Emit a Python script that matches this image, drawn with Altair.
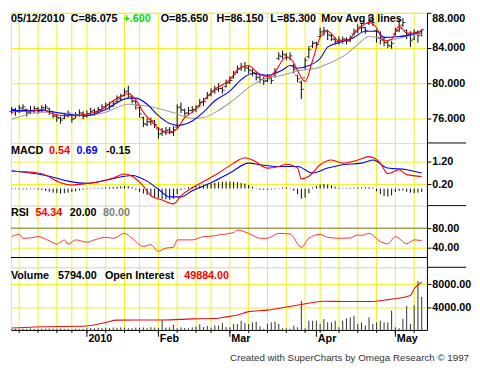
import altair as alt
import pandas as pd

# ---------------- daily bars: trading day 0 = 3 Dec 2009 ... 109 = 12 May 2010 ----------------
open_ = [76.8, 77.0, 76.8, 77.1, 77.0, 76.7, 76.9, 77.1, 76.9, 77.2,
         77.1, 76.7, 76.2, 76.0, 76.0, 76.3, 76.4, 76.0, 76.4, 76.6,
         76.3, 76.5, 76.9, 76.8, 77.0, 77.3, 77.6, 77.4, 77.9, 78.2,
         78.6, 79.1, 78.5, 77.9, 77.2, 76.1, 75.3, 75.6, 75.7, 74.8,
         74.3, 74.4, 74.7, 74.4, 75.0, 77.3, 76.9, 76.6, 76.9, 77.0,
         77.4, 77.9, 78.3, 78.7, 79.1, 79.3, 79.4, 79.6, 80.1, 80.6,
         81.2, 81.7, 81.9, 81.7, 81.4, 81.1, 80.7, 80.4, 80.3, 80.6,
         80.8, 82.8, 83.0, 83.2, 82.9, 82.0, 80.9, 80.1, 80.6, 83.0,
         84.2, 84.6, 85.3, 85.9, 85.9, 85.4, 85.0, 84.7, 84.8, 85.0,
         84.8, 85.6, 86.0, 86.4, 86.3, 86.8, 87.2, 86.0, 85.1, 85.0,
         84.6, 84.2, 85.6, 86.0, 86.6, 86.0, 85.5, 85.0, 85.8, 85.65]
high = [77.3, 77.2, 77.5, 77.6, 77.1, 77.4, 77.4, 77.3, 77.5, 77.6,
        77.2, 76.8, 76.5, 76.2, 76.6, 76.9, 76.5, 76.7, 77.0, 76.8,
        76.9, 77.2, 77.1, 77.3, 77.6, 77.8, 77.9, 78.0, 78.6, 78.8,
        79.4, 79.7, 78.6, 78.1, 77.4, 76.2, 76.0, 76.1, 75.8, 75.0,
        74.9, 75.0, 75.0, 75.1, 77.6, 77.8, 77.1, 77.3, 77.4, 77.5,
        78.2, 78.3, 79.0, 79.4, 79.7, 80.0, 79.6, 80.4, 80.8, 81.4,
        82.0, 82.3, 82.4, 82.0, 81.6, 81.3, 80.9, 80.7, 81.0, 80.8,
        81.7, 83.5, 83.7, 83.4, 83.5, 82.2, 80.9, 80.3, 82.9, 84.2,
        84.8, 84.7, 86.3, 86.4, 86.1, 85.6, 85.2, 85.3, 85.3, 85.2,
        85.4, 86.2, 86.7, 86.7, 86.4, 87.8, 87.5, 86.1, 85.9, 85.3,
        84.8, 84.8, 86.3, 87.3, 87.4, 86.1, 85.9, 86.1, 86.0, 86.15]
low = [76.5, 76.3, 76.6, 76.8, 76.2, 76.5, 76.6, 76.5, 76.7, 76.9,
       76.4, 76.0, 75.6, 75.4, 75.9, 76.1, 75.5, 76.0, 76.2, 75.9,
       76.1, 76.4, 76.3, 76.6, 76.9, 77.1, 77.0, 77.3, 77.8, 78.0,
       78.5, 78.3, 77.7, 77.0, 76.1, 75.0, 75.1, 75.2, 74.9, 73.7,
       74.0, 74.1, 74.2, 74.0, 74.8, 76.6, 76.3, 76.4, 76.6, 76.7,
       77.3, 77.4, 78.2, 78.5, 78.8, 79.0, 78.8, 79.5, 79.9, 80.5,
       81.1, 81.4, 81.3, 81.1, 80.8, 80.3, 80.0, 79.8, 80.1, 79.9,
       80.6, 82.6, 82.8, 82.6, 82.6, 81.1, 80.1, 78.2, 81.5, 82.8,
       84.0, 84.0, 85.2, 85.4, 84.9, 84.8, 84.4, 84.4, 84.5, 84.4,
       84.7, 85.4, 85.7, 85.8, 85.6, 86.6, 86.5, 84.6, 84.4, 84.2,
       84.0, 83.9, 85.4, 85.8, 86.4, 85.0, 84.1, 84.9, 84.6, 85.3]
close = [77.0, 76.8, 77.2, 77.3, 76.6, 76.9, 77.1, 76.8, 77.2, 77.3,
         76.8, 76.3, 76.1, 75.8, 76.3, 76.6, 75.9, 76.4, 76.6, 76.2,
         76.5, 76.8, 76.7, 77.0, 77.3, 77.5, 77.4, 77.7, 78.3, 78.5,
         79.0, 78.8, 78.0, 77.5, 76.5, 75.4, 75.6, 75.7, 75.3, 74.2,
         74.5, 74.6, 74.5, 74.7, 77.2, 77.0, 76.6, 76.9, 77.0, 77.2,
         77.8, 77.9, 78.6, 79.0, 79.3, 79.4, 79.2, 80.0, 80.3, 81.0,
         81.6, 81.9, 81.8, 81.5, 81.2, 80.6, 80.4, 80.2, 80.5, 80.3,
         81.3, 83.1, 83.3, 82.9, 83.1, 81.6, 80.5, 79.3, 82.6, 83.8,
         84.5, 84.4, 85.8, 86.0, 85.5, 85.0, 84.7, 84.9, 85.0, 84.8,
         85.1, 85.8, 86.2, 86.3, 86.0, 87.3, 86.9, 85.2, 84.9, 84.6,
         84.3, 84.5, 85.9, 86.2, 86.9, 85.6, 84.8, 85.7, 85.425, 86.075]
volume = [150, 200, 180, 220, 160, 250, 200, 180, 230, 200,
          260, 210, 190, 240, 180, 150, 120, 200, 170, 160,
          300, 350, 280, 400, 320, 380, 300, 420, 360, 450,
          400, 350, 300, 420, 380, 450, 300, 500, 420, 350,
          1800, 400, 450, 900, 300, 450, 350, 300, 450, 600,
          1000, 500, 700, 400, 800, 750, 1220, 500, 460, 1040,
          1040, 1620, 1220, 1040, 1330, 1450, 640, 170, 1040, 1330,
          1450, 1040, 300, 300, 200, 750, 460, 5100, 300, 1620,
          1620, 1620, 1040, 1910, 1330, 1330, 1620, 460, 1620, 2030,
          2200, 2490, 1040, 1330, 800, 2200, 1040, 1330, 1620, 1330,
          1330, 3400, 460, 300, 1910, 4200, 1040, 4350, 8600, 5794]
macd_hist = [-0.02, -0.03, -0.03, -0.04, -0.04, -0.03, -0.03, -0.05, -0.06, -0.10,
             -0.14, -0.18, -0.20, -0.22, -0.20, -0.18, -0.15, -0.12, -0.08, -0.05,
             -0.03, -0.02, 0.02, 0.03, 0.04, 0.05, 0.06, 0.07, 0.08, 0.10,
             0.12, 0.10, 0.06, -0.05, -0.15, -0.22, -0.28, -0.33, -0.38, -0.42,
             -0.46, -0.48, -0.50, -0.45, -0.25, -0.06, 0.03, 0.06, 0.08, 0.11,
             0.14, 0.17, 0.20, 0.23, 0.26, 0.28, 0.30, 0.31, 0.31, 0.30,
             0.28, 0.25, 0.22, 0.16, 0.08, -0.02, -0.05, -0.06, -0.05, -0.04,
             -0.03, 0.02, 0.04, 0.05, 0.02, -0.10, -0.25, -0.45, -0.40, -0.20,
             0.05, 0.12, 0.18, 0.20, 0.18, 0.14, 0.08, 0.03, 0.02, 0.02,
             0.03, 0.04, 0.05, 0.05, 0.06, 0.06, 0.04, -0.12, -0.25, -0.33,
             -0.35, -0.30, -0.15, -0.10, -0.08, -0.14, -0.18, -0.20, -0.18, -0.15]

# ---------------- indicator lines, read at sample days ----------------
ma_fast_day = [0, 3, 5, 8, 11, 14, 17, 20, 24, 27, 31, 33, 35, 37, 40, 42, 44, 46, 48, 51, 54, 58,
               60, 63, 65, 68, 70, 73, 75, 76, 78, 80, 82, 84, 87, 89, 92, 95, 97, 99, 101, 103,
               105, 108, 109]
ma_fast = [76.7, 76.8, 76.8, 77.0, 76.5, 76.3, 76.3, 76.5, 77.0, 78.0, 78.8, 78.1, 76.7, 75.7,
           74.6, 74.4, 74.8, 76.1, 76.7, 78.0, 79.3, 80.4, 81.5, 82.0, 81.3, 80.7, 81.3, 83.0,
           82.3, 81.4, 80.2, 82.6, 85.2, 85.9, 84.8, 84.8, 86.1, 86.9, 86.3, 84.8, 85.0, 86.5,
           85.7, 85.7, 86.1]
ma_mid_day = [0, 8, 14, 20, 25, 31, 33, 36, 39, 42, 44, 48, 51, 54, 58, 61, 64, 68, 72, 74, 76,
              79, 82, 84, 87, 91, 94, 97, 99, 103, 105, 109]
ma_mid = [76.9, 76.9, 76.5, 76.3, 77.0, 78.3, 78.3, 77.6, 76.3, 75.4, 75.2, 75.7, 76.7, 78.0,
          79.1, 80.4, 81.1, 80.9, 81.5, 82.0, 81.7, 82.0, 82.8, 84.1, 84.6, 85.2, 85.9, 85.9,
          85.2, 85.3, 85.4, 85.9]
ma_slow_day = [0, 8, 14, 20, 25, 31, 36, 41, 44, 48, 51, 55, 59, 64, 68, 72, 76, 81, 84, 89, 92,
               95, 97, 99, 103, 106, 109]
ma_slow = [75.9, 76.7, 76.6, 76.3, 76.7, 77.6, 77.4, 76.9, 76.5, 76.0, 76.1, 76.9, 78.1, 79.8,
           80.6, 80.9, 81.4, 81.7, 82.2, 83.3, 84.4, 85.3, 85.2, 84.8, 85.1, 85.4, 85.6]

macd_day = [0, 5, 8, 13, 16, 20, 24, 27, 30, 32, 35, 37, 40, 43, 45, 48, 52, 55, 59, 62, 64, 68,
            71, 73, 76, 77, 79, 82, 85, 88, 92, 95, 98, 100, 103, 105, 109]
macd_val = [0.77, 0.73, 0.66, 0.26, 0.16, 0.23, 0.33, 0.47, 0.65, 0.55, 0.11, -0.32, -0.51, -0.68,
            -0.32, 0.04, 0.40, 0.69, 1.13, 1.37, 1.27, 0.91, 0.98, 1.08, 0.91, 0.43, 0.55, 1.06,
            1.27, 1.13, 1.27, 1.42, 1.13, 0.66, 0.84, 0.62, 0.54]
signal_day = [0, 5, 10, 15, 20, 25, 32, 36, 39, 42, 45, 48, 53, 58, 63, 66, 71, 76, 80, 84, 88,
              93, 96, 100, 105, 109]
signal_val = [0.79, 0.69, 0.55, 0.33, 0.23, 0.37, 0.58, 0.33, -0.03, -0.37, -0.37, -0.10, 0.26,
              0.69, 1.13, 1.06, 0.98, 0.98, 0.69, 0.91, 1.06, 1.13, 1.27, 0.91, 0.84, 0.69]

rsi_day = [0, 2, 3, 5, 7, 10, 12, 14, 15, 17, 20, 22, 25, 27, 30, 32, 35, 37, 39, 41, 43, 44, 48,
           51, 53, 55, 59, 60, 63, 66, 68, 71, 74, 77, 79, 82, 84, 87, 90, 92, 93, 95, 98, 100,
           102, 105, 107, 109]
rsi_val = [62.7, 67.3, 59.3, 60.0, 62.7, 54.0, 47.3, 56.0, 47.3, 56.0, 51.3, 56.0, 61.3, 59.3, 69.3,
           59.3, 42.7, 46.0, 32.7, 39.3, 40.7, 56.0, 56.0, 62.7, 63.5, 66.0, 71.3, 76.0, 69.3, 59.3,
           59.3, 69.3, 68.0, 40.7, 59.3, 67.3, 61.3, 59.3, 60.0, 66.0, 65.0, 69.3, 52.7, 48.0,
           62.7, 48.0, 56.0, 54.34]
rsi_levels = [80, 20]

oi_day = [0, 6, 20, 25, 28, 34, 40, 48, 55, 56, 60, 63, 68, 72, 77, 83, 89, 95, 100, 106, 107, 109]
oi_val = [9700, 10600, 11400, 14600, 16600, 16800, 16800, 17700, 18300, 18900, 21100, 24100,
          25400, 27500, 30300, 33200, 32900, 32900, 34600, 38300, 44100, 49884]

grid_days = [2, 7, 12, 16, 20, 25, 30, 34, 39, 44, 49, 53, 58, 63, 68, 73, 78, 82, 87, 92, 97,
             102, 107]
month_days = [20, 39, 58, 81, 102]
month_names = ["2010", "Feb", "Mar", "Apr", "May"]

price_head = ["05/12/2010", "C=86.075", "+.600", "O=85.650", "H=86.150", "L=85.300", "Mov Avg 3 lines"]
macd_head = ["MACD", "0.54", "0.69", "-0.15"]
rsi_head = ["RSI", "54.34", "20.00", "80.00"]
vol_head = ["Volume", "5794.00", "Open Interest", "49884.00"]
footer = "Created with SuperCharts by Omega Research \u00a9 1997"

# ---------------- layout / style ----------------
W = 425
FONT = "Liberation Sans"
YEL = "#f0f020"
RED = "#ff0000"
BLUE = "#0000ff"
XS = alt.Scale(domain=[-0.2, 110.4], nice=False, zero=False)

bars = pd.DataFrame({"i": list(range(len(close))), "open": open_, "high": high, "low": low,
                     "close": close, "volume": volume, "hist": macd_hist})


def X(field, axis=None):
    return alt.X(field, type="quantitative", scale=XS, axis=axis, title=None)


def yaxis(values, fmt, flush=False):
    return alt.Axis(orient="right", values=values, format=fmt, grid=True, gridColor=YEL,
                    gridWidth=1, domainColor="black", tickColor="black", tickSize=4,
                    labelPadding=1, labelFont=FONT, labelFontSize=11, labelFontWeight="bold",
                    labelColor="black", title=None, labelFlush=flush, labelOverlap=False)


def yenc(scale, axis):
    return lambda f: alt.Y(f, type="quantitative", scale=scale, axis=axis, title=None)


def vgrid(xaxis=None):
    return alt.Chart(pd.DataFrame({"i": grid_days})).mark_rule(
        color=YEL, strokeWidth=1).encode(x=X("i", xaxis))


def line(days, vals, color, Y, width=1.1, xaxis=None):
    df = pd.DataFrame({"i": days, "v": vals})
    return alt.Chart(df).mark_line(color=color, strokeWidth=width, interpolate="monotone").encode(
        x=X("i", xaxis), y=Y("v"))


def label(txt, x, y, color="black", size=11, weight="bold", align="left"):
    return alt.Chart(pd.DataFrame({"t": [txt]})).mark_text(
        align=align, baseline="alphabetic", font=FONT, fontSize=size, fontWeight=weight,
        color=color).encode(x=alt.value(x), y=alt.value(y), text="t:N")


def separator():
    return alt.Chart(pd.DataFrame({"a": [0]})).mark_rule(color="black", strokeWidth=1).encode(
        x=alt.value(W), x2=alt.value(W + 40), y=alt.value(0))


# ---- price panel ----
YP = yenc(alt.Scale(domain=[73.2, 88.0], nice=False, zero=False),
          yaxis([76, 80, 84, 88], ".3f", flush=True))
p_range = alt.Chart(bars).mark_rule(color="black", strokeWidth=1).encode(
    x=X("i"), y=YP("low"), y2="high")
p_open = alt.Chart(bars).mark_tick(orient="horizontal", size=2.5, thickness=1, xOffset=-1.3,
                                   color="black").encode(x=X("i"), y=YP("open"))
p_close = alt.Chart(bars).mark_tick(orient="horizontal", size=2.5, thickness=1, xOffset=1.3,
                                    color="black").encode(x=X("i"), y=YP("close"))
px = [0, 61, 115, 153, 210, 265, 317]
pcol = ["black", "black", "#00dd00", "black", "black", "black", "black"]
price = alt.layer(
    vgrid(), p_range, p_open, p_close,
    line(ma_slow_day, ma_slow, "#a0a0a0", YP),
    line(ma_mid_day, ma_mid, BLUE, YP),
    line(ma_fast_day, ma_fast, RED, YP),
    *[label(t, x, 9, c) for t, x, c in zip(price_head, px, pcol)]
).properties(width=W, height=133)

# ---- MACD panel ----
YM = yenc(alt.Scale(domain=[-0.757, 2.026], nice=False, zero=False),
          yaxis([0.2, 1.2], ".2f"))
m_hist = alt.Chart(bars).mark_rule(color="black", strokeWidth=1).encode(
    x=X("i"), y=YM("hist"), y2=alt.datum(0))
mx = [0, 39, 67, 97]
mcol = ["black", RED, BLUE, "black"]
macd = alt.layer(
    vgrid(), m_hist,
    line(signal_day, signal_val, BLUE, YM),
    line(macd_day, macd_val, RED, YM),
    *[label(t, x, 11, c) for t, x, c in zip(macd_head, mx, mcol)],
    separator()
).properties(width=W, height=64)

# ---- RSI panel ----
YR = yenc(alt.Scale(domain=[0, 126], nice=False, zero=False), yaxis([40, 80], ".2f"))
r_hi = alt.Chart(pd.DataFrame({"v": rsi_levels[:1]})).mark_rule(color="#707070", strokeWidth=1).encode(y=YR("v"))
r_lo = alt.Chart(pd.DataFrame({"v": rsi_levels[1:]})).mark_rule(color="black", strokeWidth=1).encode(y=YR("v"))
rx = [0, 25, 60, 94]
rcol = ["black", RED, "black", "#808080"]
rsi = alt.layer(
    vgrid(), r_hi, r_lo,
    line(rsi_day, rsi_val, "#ff3030", YR, width=1),
    *[label(t, x, 11, c) for t, x, c in zip(rsi_head, rx, rcol)],
    separator()
).properties(width=W, height=63)

# ---- volume / open interest panel ----
expr = " : ".join(f"datum.value == {d} ? '{n}'" for d, n in zip(month_days, month_names)) + " : ''"
XA = alt.Axis(values=month_days, labelExpr=expr, labelAlign="left", labelBaseline="top",
              labelPadding=3, labelOffset=1, ticks=False, grid=False, domainColor="black",
              labelFont=FONT, labelFontSize=11, labelFontWeight="bold", labelColor="black",
              title=None, labelOverlap=False, labelFlush=False)
YV = yenc(alt.Scale(domain=[0, 11000], nice=False, zero=False), yaxis([4000, 8000], ".2f"))
YO = yenc(alt.Scale(domain=[8000, 63000], nice=False, zero=False), None)
v_bars = alt.Chart(bars).mark_rule(color="#303030", strokeWidth=1).encode(
    x=X("i", XA), y=YV("volume"), y2=alt.datum(0))
v_oi = line(oi_day, oi_val, "#e81010", YO, width=1.1, xaxis=XA)
v_mtick = alt.Chart(pd.DataFrame({"i": month_days})).mark_rule(color="black").encode(
    x=X("i", XA), y=alt.value(64), y2=alt.value(71))
v_wtick = alt.Chart(pd.DataFrame({"i": grid_days})).mark_rule(color="black").encode(
    x=X("i", XA), y=alt.value(64), y2=alt.value(67))
vx = [0, 48, 96, 177]
vcol = ["black", "black", "black", RED]
vol = alt.layer(
    vgrid(XA), v_bars, v_oi, v_mtick, v_wtick,
    *[label(t, x, 12, c) for t, x, c in zip(vol_head, vx, vcol)],
    separator(),
    label(footer, W + 43, 96, "#333333", size=10, weight="normal", align="right")
).resolve_scale(y="independent").properties(width=W, height=64)

chart = alt.vconcat(price, macd, rsi, vol, spacing=0, bounds="flush").properties(
    padding={"left": 0, "top": 0, "right": 0, "bottom": 0}
).configure_view(stroke=None).configure(background="white")

chart.save("out.html", embed_options={"renderer": "svg", "actions": False})
